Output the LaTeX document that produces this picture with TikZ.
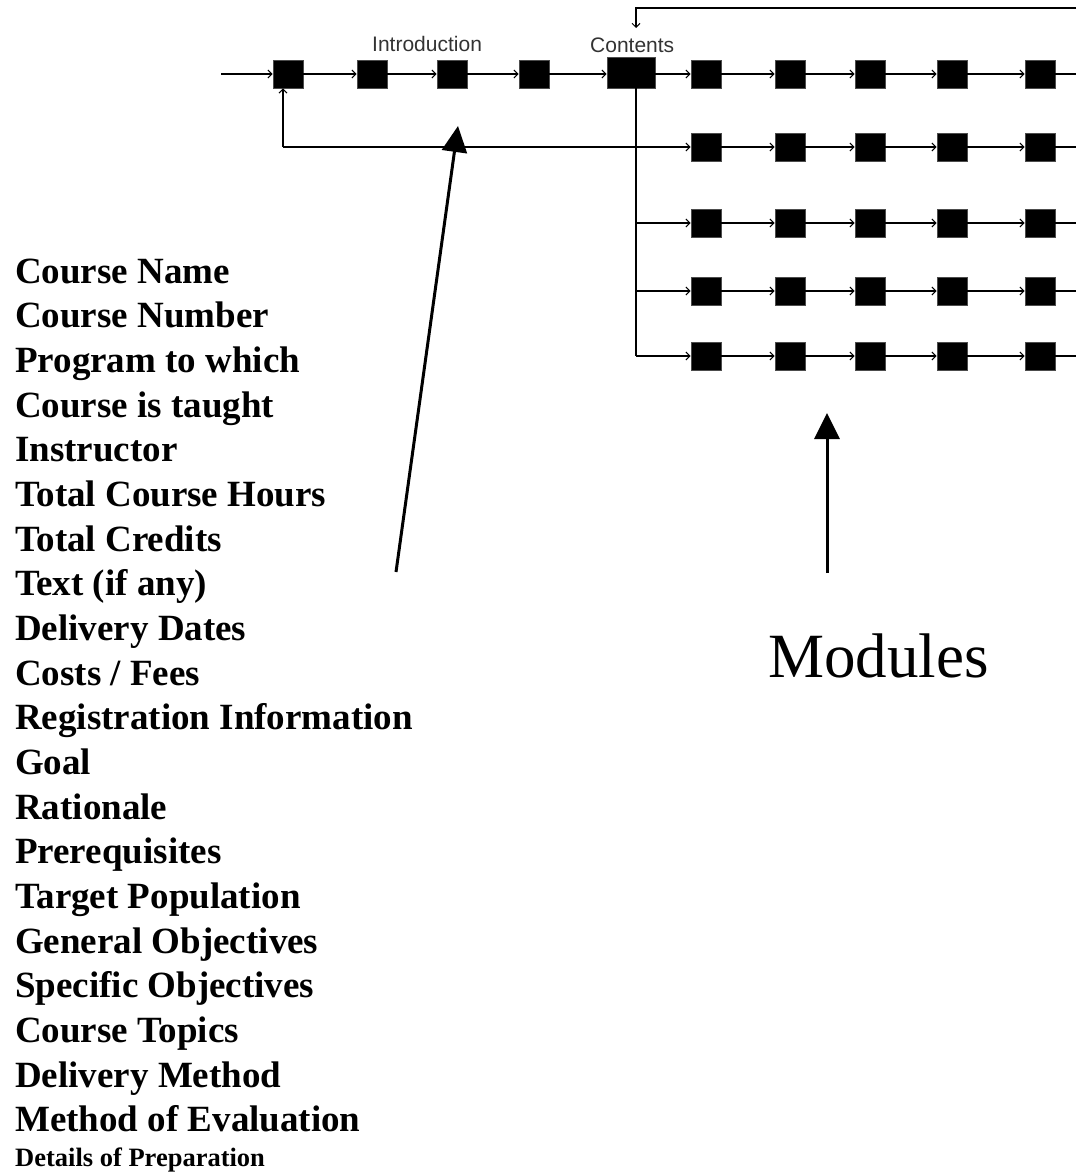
\documentclass[tikz,border=0pt]{standalone}
\usepackage{fontspec}
\setmainfont{Liberation Serif}
\newfontfamily\labelfont{Liberation Sans}
\usetikzlibrary{arrows.meta}
\tikzset{
  modbox/.style={draw=black!70, fill=black, line width=0.8pt, minimum width=30pt, minimum height=28pt, inner sep=0pt},
  flow/.style={line width=1.5pt, -{Straight Barb[length=4pt,width=8pt,line width=1pt]}},
  plain/.style={line width=1.5pt},
  bigarrow/.style={line width=3pt, -{Triangle[length=26pt,width=25pt]}},
  toplabel/.style={font=\labelfont\fontsize{21}{24}\selectfont, text=black!80, anchor=base west, inner sep=0pt},
  listitem/.style={font=\bfseries\fontsize{37}{40}\selectfont, anchor=base west, inner sep=0pt},
  smallitem/.style={font=\bfseries\fontsize{26.5}{30}\selectfont, anchor=base west, inner sep=0pt},
  modlabel/.style={font=\fontsize{63}{70}\selectfont, anchor=base west, inner sep=0pt}
}
\begin{document}
\begin{tikzpicture}[x=1pt,y=-1pt]
\useasboundingbox (0,0) rectangle (1076,1175);
% top row
\coordinate (in) at (221,74);
\node[modbox] (t1) at (288,74) {};
\node[modbox] (t2) at (372,74) {};
\node[modbox] (t3) at (452,74) {};
\node[modbox] (t4) at (534,74) {};
\node[modbox, minimum width=48pt, minimum height=31pt] (cont) at (631,72.5) {};
\foreach \x [count=\j] in {706,790,870,952,1040} {
  \node[modbox] (t\j r) at (\x,74) {};
}
\coordinate (tend) at (1076,74);
\node[toplabel] (intro) at (372,51) {Introduction};
\node[toplabel] (contl) at (590,52) {Contents};
% connectors top row
\draw[flow] (in) -- (t1.west);
\draw[flow] (t1.east) -- (t2.west);
\draw[flow] (t2.east) -- (t3.west);
\draw[flow] (t3.east) -- (t4.west);
\draw[flow] (t4.east) -- (cont.west |- t4.west);
\draw[flow] (cont.east |- t4.east) -- (t1r.west);
\draw[flow] (t1r.east) -- (t2r.west);
\draw[flow] (t2r.east) -- (t3r.west);
\draw[flow] (t3r.east) -- (t4r.west);
\draw[flow] (t4r.east) -- (t5r.west);
\draw[plain] (t5r.east) -- (tend);
% top feedback into Contents
\coordinate (fbr) at (1076,8);
\coordinate (fbc) at (636,8);
\coordinate (fbt) at (636,28);
\draw[flow] (fbr) -- (fbc) -- (fbt);
% trunk
\coordinate (trtop) at (636,88);
\coordinate (trbot) at (636,356);
\draw[plain] (trtop) -- (trbot);
% rows 2-5
\coordinate (fb) at (283,147);
\foreach \y [count=\r from 2] in {147,223,291,356} {
  \coordinate (s\r) at (636,\y);
  \foreach \x [count=\j] in {706,790,870,952,1040} {
    \node[modbox] (m\r-\j) at (\x,\y) {};
  }
  \coordinate (e\r) at (1076,\y);
  \draw[flow] (s\r) -- (m\r-1.west);
  \draw[flow] (m\r-1.east) -- (m\r-2.west);
  \draw[flow] (m\r-2.east) -- (m\r-3.west);
  \draw[flow] (m\r-3.east) -- (m\r-4.west);
  \draw[flow] (m\r-4.east) -- (m\r-5.west);
  \draw[plain] (m\r-5.east) -- (e\r);
}
% feedback to first box
\draw[plain] (s2) -- (fb);
\draw[flow] (fb) -- ([xshift=-5pt]t1.south);
% list
\foreach \t [count=\i from 0] in {Course Name,Course Number,Program to which,Course is taught,Instructor,Total Course Hours,Total Credits,Text (if any),Delivery Dates,Costs / Fees,Registration Information,Goal,Rationale,Prerequisites,Target Population,General Objectives,Specific Objectives,Course Topics,Delivery Method,Method of Evaluation} {
  \node[listitem] (l\i) at (15,283+44.68*\i) {\t};
}
\node[smallitem] (ldet) at (15,1166) {Details of Preparation};
% big arrows
\coordinate (a1s) at (396,572);
\coordinate (a1e) at (458,126);
\draw[bigarrow] (a1s) -- (a1e);
\coordinate (a2s) at (827,573);
\coordinate (a2e) at (827,413);
\draw[bigarrow] (a2s) -- (a2e);
\node[modlabel] (mods) at (768,677) {Modules};
\end{tikzpicture}
\end{document}
